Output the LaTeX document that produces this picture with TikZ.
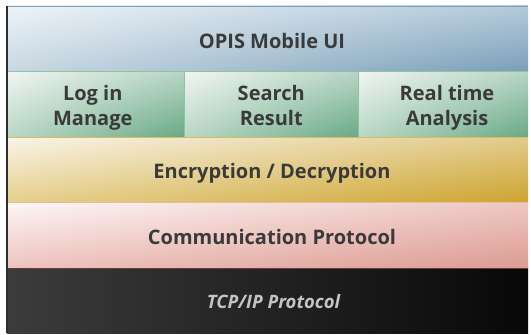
\documentclass[tikz,border=0pt]{standalone}
\usepackage{fontspec}
\usetikzlibrary{shadings}
\setmainfont{Open Sans}
\definecolor{txt}{HTML}{3A3A3A}
\definecolor{tcptxt}{HTML}{C4C4C4}
% band colours: upper left, upper right, lower left, lower right
\definecolor{uiUL}{RGB}{238,243,248}
\definecolor{uiUR}{RGB}{180,202,218}
\definecolor{uiLL}{RGB}{200,215,226}
\definecolor{uiLR}{RGB}{122,159,185}
\definecolor{gnUL}{RGB}{241,245,242}
\definecolor{gnUR}{RGB}{183,213,196}
\definecolor{gnLL}{RGB}{186,215,197}
\definecolor{gnLR}{RGB}{104,169,134}
\definecolor{gdUL}{RGB}{249,244,233}
\definecolor{gdUR}{RGB}{226,203,140}
\definecolor{gdLL}{RGB}{230,207,140}
\definecolor{gdLR}{RGB}{205,164,46}
\definecolor{pkUL}{RGB}{253,246,246}
\definecolor{pkUR}{RGB}{238,199,194}
\definecolor{pkLL}{RGB}{238,195,190}
\definecolor{pkLR}{RGB}{220,155,146}
\definecolor{bkL}{RGB}{60,60,60}
\definecolor{bkR}{RGB}{8,8,8}
\definecolor{lnBlue}{RGB}{122,160,186}
\definecolor{lnGreen}{RGB}{140,196,162}
\definecolor{lnGold}{RGB}{215,190,90}
\definecolor{lnPink}{RGB}{225,190,160}
\definecolor{lnDark}{RGB}{100,60,60}
\definecolor{lnLeft}{RGB}{40,48,52}
\tikzset{
  x=1pt, y=1pt,
  band/.style={rectangle, inner sep=0pt, outer sep=0pt, anchor=south west,
    minimum height=65.5pt},
  bandtext/.style={font=\bfseries\fontsize{20}{25}\selectfont, text=txt,
    align=center, inner sep=0pt},
  uiband/.style={band, minimum width=521pt,
    upper left=uiUL, upper right=uiUR, lower left=uiLL, lower right=uiLR},
  cell/.style={band,
    upper left=gnUL, upper right=gnUR, lower left=gnLL, lower right=gnLR},
  cryptband/.style={band, minimum width=521pt,
    upper left=gdUL, upper right=gdUR, lower left=gdLL, lower right=gdLR},
  commband/.style={band, minimum width=521pt,
    upper left=pkUL, upper right=pkUR, lower left=pkLL, lower right=pkLR},
  tcpband/.style={band, minimum width=521pt, left color=bkL, right color=bkR},
}
\begin{document}
\begin{tikzpicture}
\useasboundingbox (0,0) rectangle (531,335);
\fill[white] (0,0) rectangle (531,335);

% layer bands, bottom to top
\node[tcpband]   (tcp)    at (7,1.5)   {};
\node[commband]  (comm)   at (7,67)    {};
\node[cryptband] (crypt)  at (7,132.5) {};
\node[cell, minimum width=177.5pt] (login)  at (7,198)     {};
\node[cell, minimum width=173.5pt] (search) at (184.5,198) {};
\node[cell, minimum width=170pt]   (real)   at (358,198)   {};
\node[uiband]    (ui)     at (7,263.5) {};

% separating lines
\draw[lnBlue, line width=0.8pt] (ui.north west) -- (ui.north east);
\draw[lnGreen, line width=0.8pt] (ui.south west) -- (ui.south east);
\draw[lnGreen, line width=0.9pt]
  (login.north east) -- (login.south east)
  (search.north east) -- (search.south east);
\draw[lnGold, line width=0.8pt] (crypt.north west) -- (crypt.north east);
\draw[lnPink, line width=0.6pt] (crypt.south west) -- (crypt.south east);
\draw[lnDark, line width=0.8pt] (comm.south west) -- (comm.south east);
\draw[lnLeft, line width=1.2pt] (ui.north west) -- (tcp.south west);

% labels
\node[bandtext] (t-ui)     at ([xshift=4.5pt,yshift=-2pt]ui.center)    {OPIS Mobile UI};
\node[bandtext] (t-login)  at ([xshift=-3pt,yshift=-4pt]login.center)  {Log in\\Manage};
\node[bandtext] (t-search) at ([yshift=-1pt]search.center)             {Search\\Result};
\node[bandtext] (t-real)   at ([xshift=4pt,yshift=-4pt]real.center)    {Real time\\Analysis};
\node[bandtext] (t-crypt)  at ([xshift=4.5pt,yshift=-4pt]crypt.center) {Encryption / Decryption};
\node[bandtext] (t-comm)   at ([xshift=4.5pt,yshift=-2pt]comm.center)  {Communication Protocol};
\node[bandtext, font=\bfseries\itshape\fontsize{18.5}{24}\selectfont, text=tcptxt]
  (t-tcp) at ([xshift=6pt,yshift=-1pt]tcp.center) {TCP/IP Protocol};
\end{tikzpicture}
\end{document}
